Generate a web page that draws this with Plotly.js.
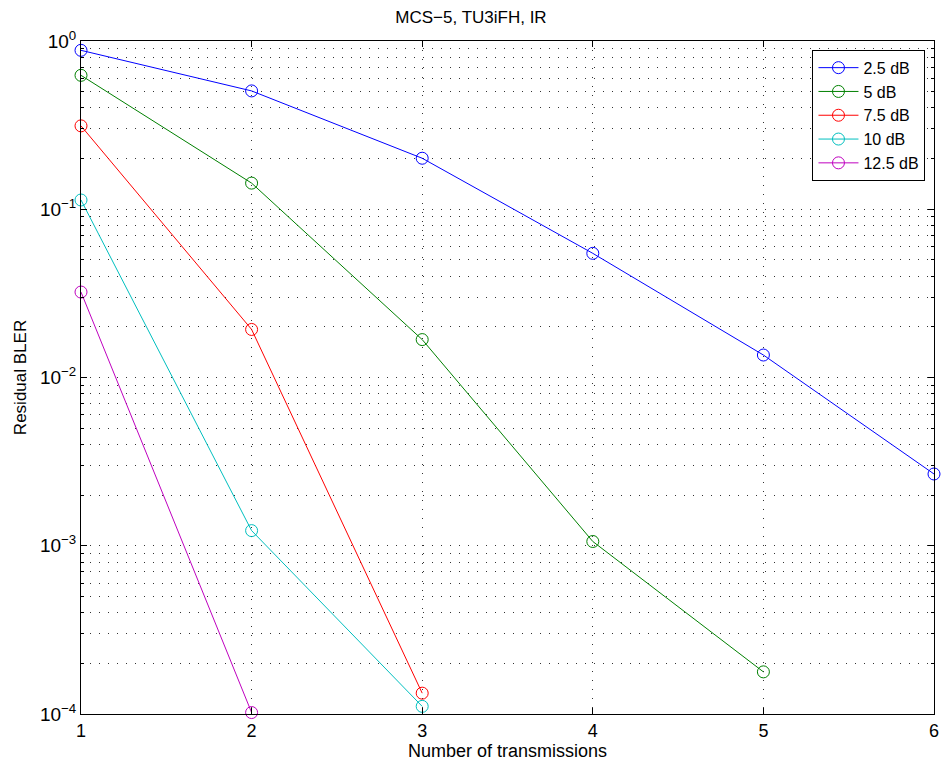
<!DOCTYPE html>
<html>
<head>
<meta charset="utf-8">
<script src="https://cdn.plot.ly/plotly-3.0.1.min.js"></script>
<style>html,body{margin:0;padding:0;background:#fff;}#chart{width:942px;height:767px;}</style>
</head>
<body>
<div id="chart"></div>
<script>
const transmissions = [1, 2, 3, 4, 5, 6];
const seriesNames = ['2.5 dB', '5 dB', '7.5 dB', '10 dB', '12.5 dB'];
const bler_2_5 = [0.88, 0.505, 0.201, 0.0547, 0.0136, 0.00267];
const bler_5 = [0.625, 0.143, 0.0168, 0.00106, 0.000178];
const bler_7_5 = [0.313, 0.0193, 0.000133];
const bler_10 = [0.1135, 0.00123, 0.000111];
const bler_12_5 = [0.0322, 0.000102];
const colors = ['#0000ff', '#008000', '#ff0000', '#00bfbf', '#bf00bf'];
const yMajorVals = [1e-4, 1e-3, 1e-2, 1e-1, 1];
const yMajorText = ['10<sup>−4</sup>', '10<sup>−3</sup>', '10<sup>−2</sup>', '10<sup>−1</sup>', '10<sup>0</sup>'];
const xTickVals = [1, 2, 3, 4, 5, 6];
const xTickText = ['1', '2', '3', '4', '5', '6'];

const allSeries = [bler_2_5, bler_5, bler_7_5, bler_10, bler_12_5];
const yMinorVals = [];
for (let e = -4; e < 0; e++) {
  for (let m = 2; m <= 9; m++) yMinorVals.push(m * Math.pow(10, e));
}

const traces = allSeries.map((ys, i) => ({
  x: transmissions.slice(0, ys.length),
  y: ys,
  name: seriesNames[i],
  type: 'scatter',
  mode: 'lines+markers',
  line: {color: colors[i], width: 1},
  marker: {symbol: 'circle-open', size: 12, color: colors[i], line: {width: 1, color: colors[i]}},
  cliponaxis: false
}));

const fontFam = 'Liberation Sans, Arial, Helvetica, sans-serif';
const gridDash = '1px,8px';
const gridCol = '#333';
const layout = {
  width: 942, height: 767,
  margin: {l: 81, r: 8, t: 41, b: 53},
  paper_bgcolor: '#fff', plot_bgcolor: '#fff',
  font: {family: fontFam, size: 17, color: '#000'},
  title: {text: 'MCS−5, TU3iFH, IR', font: {size: 17, family: fontFam, color: '#000'}, x: 0.5, xanchor: 'center', y: 0.978, yanchor: 'middle'},
  showlegend: true,
  legend: {
    x: 0.99, xanchor: 'right', y: 0.987, yanchor: 'top',
    bgcolor: '#fff', bordercolor: '#000', borderwidth: 1,
    font: {size: 16, family: fontFam}, tracegroupgap: 0, itemwidth: 40
  },
  xaxis: {
    range: [1, 6],
    tickmode: 'array', tickvals: xTickVals, ticktext: xTickText,
    ticks: 'inside', ticklen: 6, tickcolor: '#000', tickwidth: 1,
    showline: true, linecolor: '#000', linewidth: 1, mirror: 'allticks',
    showgrid: true, gridcolor: gridCol, griddash: gridDash, gridwidth: 1,
    zeroline: false,
    tickfont: {size: 18, family: fontFam},
    title: {text: 'Number of transmissions', font: {size: 18, family: fontFam}, standoff: 3}
  },
  yaxis: {
    type: 'log', range: [-4, 0],
    tickmode: 'array', tickvals: yMajorVals, ticktext: yMajorText,
    ticks: 'inside', ticklen: 6, tickcolor: '#000', tickwidth: 1,
    showline: true, linecolor: '#000', linewidth: 1, mirror: 'allticks',
    showgrid: true, gridcolor: gridCol, griddash: gridDash, gridwidth: 1,
    zeroline: false,
    tickfont: {size: 19, family: fontFam},
    minor: {tickmode: 'array', tickvals: yMinorVals, ticks: 'inside', ticklen: 3, tickcolor: '#000', showgrid: true, gridcolor: gridCol, griddash: gridDash, gridwidth: 1},
    title: {text: 'Residual BLER', font: {size: 17, family: fontFam}, standoff: 8}
  }
};

Plotly.newPlot('chart', traces, layout, {displayModeBar: false, staticPlot: true});
</script>
</body>
</html>
